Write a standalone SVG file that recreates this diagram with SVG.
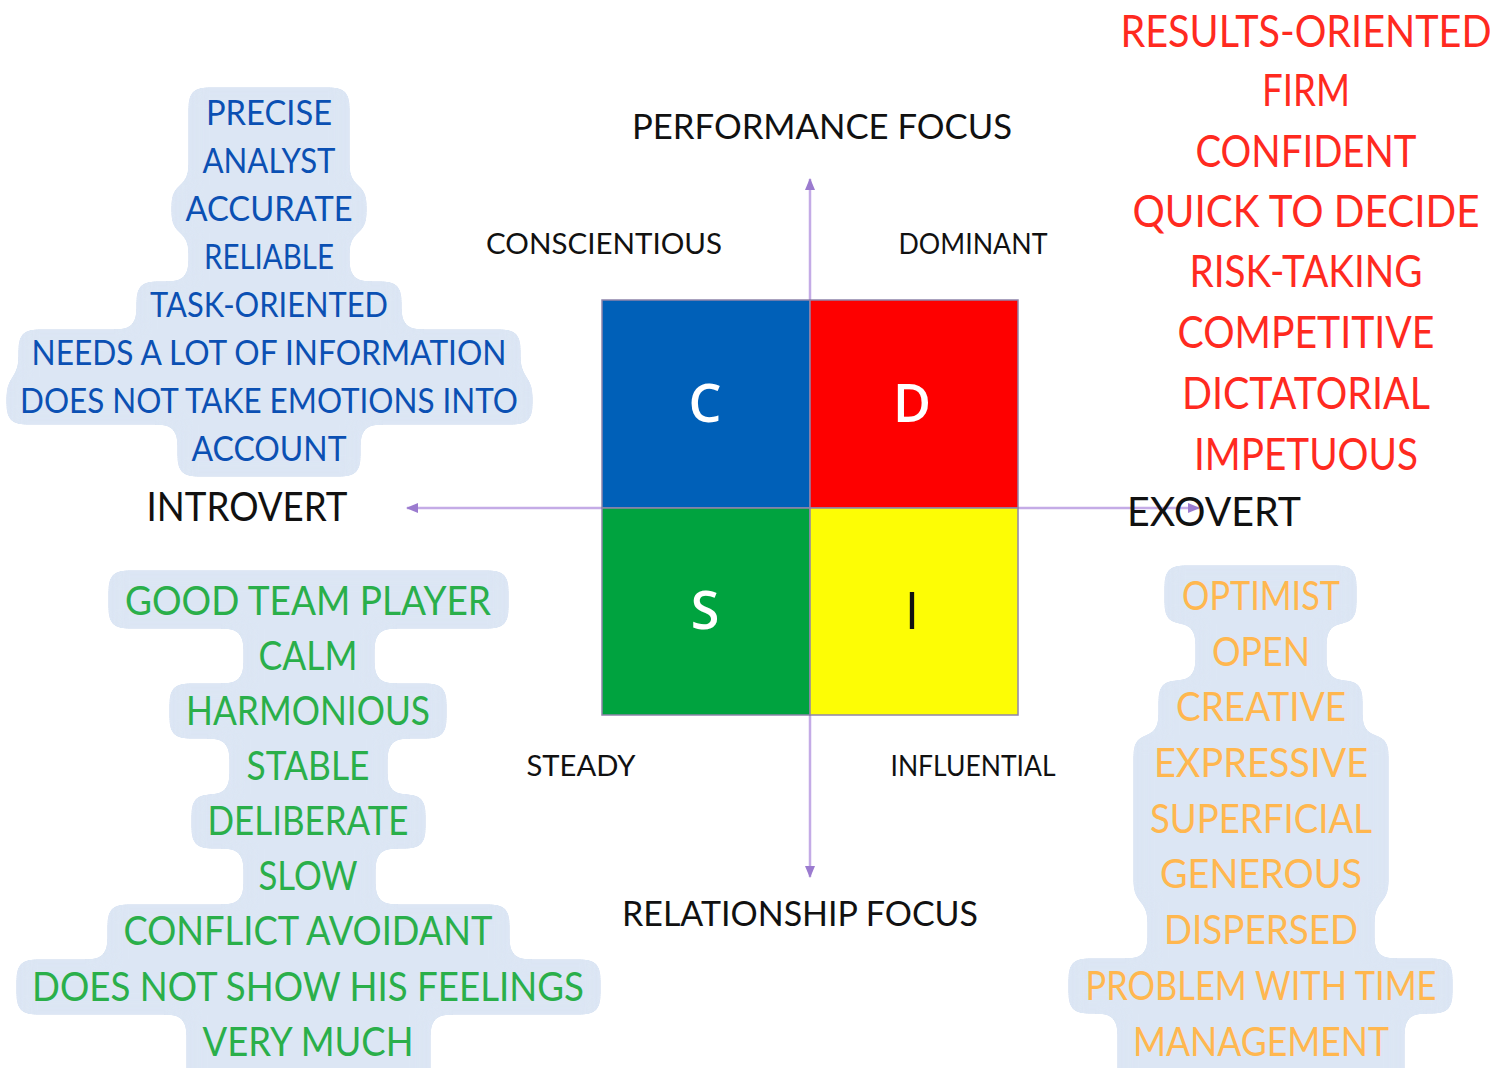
<svg xmlns="http://www.w3.org/2000/svg" width="1511" height="1068" viewBox="0 0 1511 1068">
  <style>
    text { font-family: Lato, "Open Sans", "Liberation Sans", sans-serif; font-weight: 400; text-anchor: middle; }
    .bub { fill: #dce6f4; }
    .blue { fill: #0b50b3; font-size: 34px; }
    .green { fill: #2aaf4a; font-size: 40px; }
    .orange { fill: #ffb74f; font-size: 41px; }
    .red { fill: #ff2a1f; font-size: 44px; }
    .lbl { fill: #111111; font-size: 28px; }
    .lbl-l { fill: #111111; font-size: 34px; }
    .lbl-xl { fill: #111111; font-size: 40px; }
    .axis { stroke: #c4abe6; stroke-width: 2.5; fill: none; }
    .cell { stroke: #8f84aa; stroke-width: 1.5; }
    .letter { font-family: "Open Sans", "Liberation Sans", sans-serif; font-weight: 600; font-size: 52px; }
  </style>
  <defs>
    <!-- merges stacked row boxes into one rounded outline with soft inner fillets -->
    <filter id="goo" x="0" y="0" width="1511" height="1120" filterUnits="userSpaceOnUse" color-interpolation-filters="sRGB">
      <feGaussianBlur in="SourceGraphic" stdDeviation="9" result="b"/>
      <feColorMatrix in="b" type="matrix" values="1 0 0 0 0  0 1 0 0 0  0 0 1 0 0  0 0 0 40 -20"/>
    </filter>
    <marker id="tip" viewBox="0 0 12 10" refX="11" refY="5" markerWidth="12" markerHeight="10" markerUnits="userSpaceOnUse" orient="auto">
      <path d="M0,0 L12,5 L0,10 Z" fill="#9b7bcf"/>
    </marker>
  </defs>

  <rect width="1511" height="1068" fill="#ffffff"/>

  <!-- axes -->
  <g id="connectors">
    <line class="axis" x1="810" y1="508" x2="810" y2="179" marker-end="url(#tip)"/>
    <line class="axis" x1="810" y1="508" x2="810" y2="877" marker-end="url(#tip)"/>
    <line class="axis" x1="810" y1="508" x2="407" y2="508" marker-end="url(#tip)"/>
    <line class="axis" x1="810" y1="508" x2="1199" y2="508" marker-end="url(#tip)"/>
  </g>

  <!-- DISC quadrant -->
  <g id="quadrant-c">
    <rect class="cell" x="602" y="300" width="208" height="208" fill="#0060b8"/>
    <text class="letter" x="705" y="422" fill="#ffffff">C</text>
  </g>
  <g id="quadrant-d">
    <rect class="cell" x="810" y="300" width="208" height="208" fill="#fe0000"/>
    <text class="letter" x="912" y="422" fill="#ffffff">D</text>
  </g>
  <g id="quadrant-s">
    <rect class="cell" x="602" y="508" width="208" height="207" fill="#00a33f"/>
    <text class="letter" x="705" y="629" fill="#ffffff">S</text>
  </g>
  <g id="quadrant-i">
    <rect class="cell" x="810" y="508" width="208" height="207" fill="#fdfd05"/>
    <text class="letter" x="912" y="629" fill="#111111" style="font-weight:400">I</text>
  </g>

  <!-- axis and quadrant labels -->
  <g id="labels">
    <text class="lbl-l" x="822" y="139" textLength="380" lengthAdjust="spacingAndGlyphs">PERFORMANCE FOCUS</text>
    <text class="lbl" x="604" y="254" textLength="236" lengthAdjust="spacingAndGlyphs">CONSCIENTIOUS</text>
    <text class="lbl" x="973" y="254" textLength="149" lengthAdjust="spacingAndGlyphs">DOMINANT</text>
    <text class="lbl-xl" x="247" y="521" textLength="201" lengthAdjust="spacingAndGlyphs">INTROVERT</text>
    <text class="lbl-xl" x="1214" y="526" textLength="174" lengthAdjust="spacingAndGlyphs">EXOVERT</text>
    <text class="lbl" x="581" y="776" textLength="109" lengthAdjust="spacingAndGlyphs">STEADY</text>
    <text class="lbl" x="973" y="776" textLength="165" lengthAdjust="spacingAndGlyphs">INFLUENTIAL</text>
    <text class="lbl-l" x="800" y="926" textLength="356" lengthAdjust="spacingAndGlyphs">RELATIONSHIP FOCUS</text>
  </g>

  <!-- C traits -->
  <g id="traits-c">
    <g class="bub" filter="url(#goo)">
      <rect x="188" y="87" width="162" height="98"/>
      <rect x="171" y="185" width="196" height="48"/>
      <rect x="188" y="233" width="162" height="48"/>
      <rect x="136" y="281" width="266" height="48"/>
      <rect x="18" y="329" width="503" height="48"/>
      <rect x="6" y="377" width="527" height="48"/>
      <rect x="177" y="425" width="184" height="52"/>
    </g>
    <text class="blue" x="269" y="125" textLength="126" lengthAdjust="spacingAndGlyphs">PRECISE</text>
    <text class="blue" x="269" y="173" textLength="133" lengthAdjust="spacingAndGlyphs">ANALYST</text>
    <text class="blue" x="269" y="221" textLength="167" lengthAdjust="spacingAndGlyphs">ACCURATE</text>
    <text class="blue" x="269" y="269" textLength="130" lengthAdjust="spacingAndGlyphs">RELIABLE</text>
    <text class="blue" x="269" y="317" textLength="238" lengthAdjust="spacingAndGlyphs">TASK-ORIENTED</text>
    <text class="blue" x="269" y="365" textLength="475" lengthAdjust="spacingAndGlyphs">NEEDS A LOT OF INFORMATION</text>
    <text class="blue" x="269" y="413" textLength="498" lengthAdjust="spacingAndGlyphs">DOES NOT TAKE EMOTIONS INTO</text>
    <text class="blue" x="269" y="461" textLength="155" lengthAdjust="spacingAndGlyphs">ACCOUNT</text>
  </g>

  <!-- D traits -->
  <g id="traits-d">
    <text class="red" x="1306" y="47" textLength="371" lengthAdjust="spacingAndGlyphs">RESULTS-ORIENTED</text>
    <text class="red" x="1306" y="106" textLength="88" lengthAdjust="spacingAndGlyphs">FIRM</text>
    <text class="red" x="1306" y="167" textLength="221" lengthAdjust="spacingAndGlyphs">CONFIDENT</text>
    <text class="red" x="1306" y="227" textLength="347" lengthAdjust="spacingAndGlyphs">QUICK TO DECIDE</text>
    <text class="red" x="1306" y="287" textLength="233" lengthAdjust="spacingAndGlyphs">RISK-TAKING</text>
    <text class="red" x="1306" y="348" textLength="257" lengthAdjust="spacingAndGlyphs">COMPETITIVE</text>
    <text class="red" x="1306" y="409" textLength="248" lengthAdjust="spacingAndGlyphs">DICTATORIAL</text>
    <text class="red" x="1306" y="470" textLength="224" lengthAdjust="spacingAndGlyphs">IMPETUOUS</text>
  </g>

  <!-- S traits -->
  <g id="traits-s">
    <g class="bub" filter="url(#goo)">
      <rect x="108" y="570" width="401" height="59"/>
      <rect x="243" y="629" width="132" height="54"/>
      <rect x="169" y="683" width="278" height="56"/>
      <rect x="229" y="739" width="159" height="55"/>
      <rect x="191" y="794" width="235" height="55"/>
      <rect x="243" y="849" width="133" height="55"/>
      <rect x="107" y="904" width="403" height="55"/>
      <rect x="16" y="959" width="585" height="56"/>
      <rect x="186" y="1015" width="245" height="80"/>
    </g>
    <text class="green" x="308" y="615" textLength="366" lengthAdjust="spacingAndGlyphs">GOOD TEAM PLAYER</text>
    <text class="green" x="308" y="670" textLength="99" lengthAdjust="spacingAndGlyphs">CALM</text>
    <text class="green" x="308" y="725" textLength="244" lengthAdjust="spacingAndGlyphs">HARMONIOUS</text>
    <text class="green" x="308" y="780" textLength="123" lengthAdjust="spacingAndGlyphs">STABLE</text>
    <text class="green" x="308" y="835" textLength="201" lengthAdjust="spacingAndGlyphs">DELIBERATE</text>
    <text class="green" x="308" y="890" textLength="99" lengthAdjust="spacingAndGlyphs">SLOW</text>
    <text class="green" x="308" y="945" textLength="369" lengthAdjust="spacingAndGlyphs">CONFLICT AVOIDANT</text>
    <text class="green" x="308" y="1001" textLength="552" lengthAdjust="spacingAndGlyphs">DOES NOT SHOW HIS FEELINGS</text>
    <text class="green" x="308" y="1056" textLength="211" lengthAdjust="spacingAndGlyphs">VERY MUCH</text>
  </g>

  <!-- I traits -->
  <g id="traits-i">
    <g class="bub" filter="url(#goo)">
      <rect x="1164" y="565" width="193" height="59"/>
      <rect x="1195" y="624" width="132" height="56"/>
      <rect x="1158" y="680" width="205" height="55"/>
      <rect x="1133" y="735" width="256" height="167"/>
      <rect x="1147" y="902" width="228" height="56"/>
      <rect x="1068" y="958" width="385" height="56"/>
      <rect x="1117" y="1014" width="288" height="80"/>
    </g>
    <text class="orange" x="1261" y="610" textLength="158" lengthAdjust="spacingAndGlyphs">OPTIMIST</text>
    <text class="orange" x="1261" y="666" textLength="98" lengthAdjust="spacingAndGlyphs">OPEN</text>
    <text class="orange" x="1261" y="721" textLength="170" lengthAdjust="spacingAndGlyphs">CREATIVE</text>
    <text class="orange" x="1261" y="777" textLength="214" lengthAdjust="spacingAndGlyphs">EXPRESSIVE</text>
    <text class="orange" x="1261" y="833" textLength="222" lengthAdjust="spacingAndGlyphs">SUPERFICIAL</text>
    <text class="orange" x="1261" y="888" textLength="202" lengthAdjust="spacingAndGlyphs">GENEROUS</text>
    <text class="orange" x="1261" y="944" textLength="194" lengthAdjust="spacingAndGlyphs">DISPERSED</text>
    <text class="orange" x="1261" y="1000" textLength="351" lengthAdjust="spacingAndGlyphs">PROBLEM WITH TIME</text>
    <text class="orange" x="1261" y="1056" textLength="256" lengthAdjust="spacingAndGlyphs">MANAGEMENT</text>
  </g>
</svg>
